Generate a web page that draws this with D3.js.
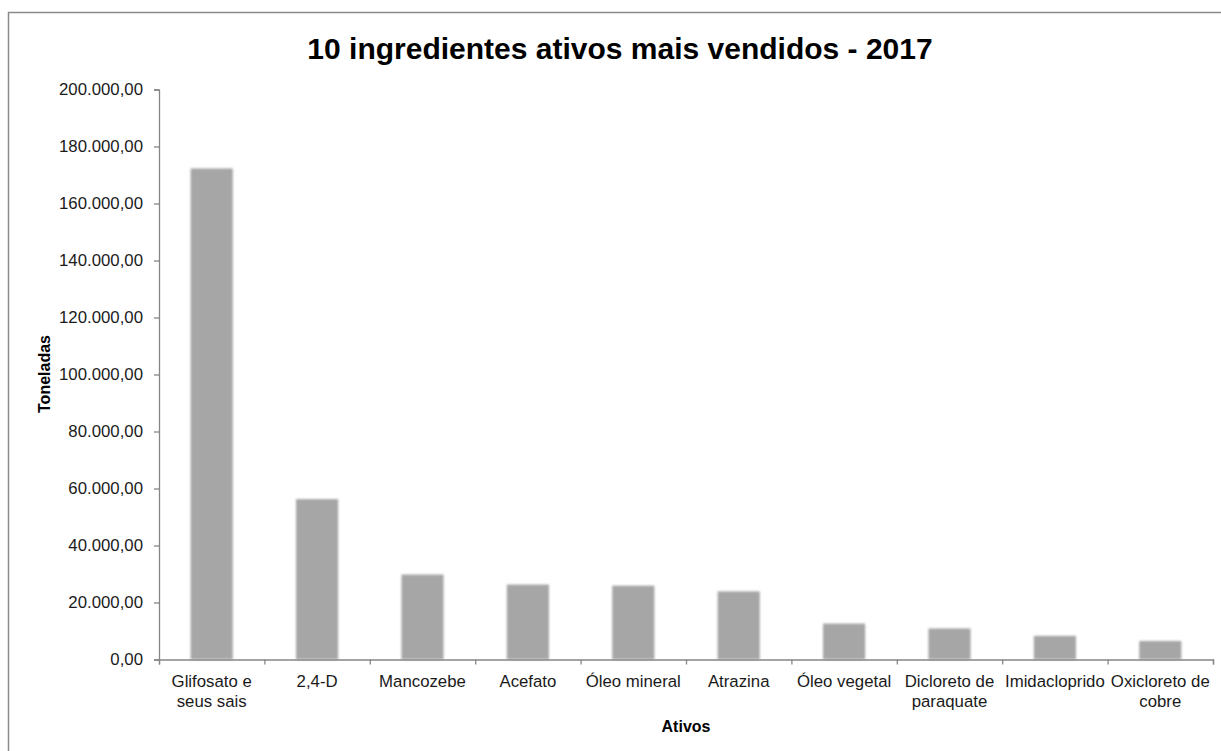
<!DOCTYPE html>
<html>
<head>
<meta charset="utf-8">
<script src="https://cdn.jsdelivr.net/npm/d3@7"></script>
<style>
  body { margin: 0; background: #fff; }
  svg { font-family: "Liberation Sans", Arial, sans-serif; }
</style>
</head>
<body>
<svg width="1221" height="751"></svg>
<script>
const categorias = ["Glifosato e seus sais", "2,4-D", "Mancozebe", "Acefato", "Óleo mineral",
                    "Atrazina", "Óleo vegetal", "Dicloreto de paraquate", "Imidacloprido", "Oxicloreto de cobre"];
const rotulos = [["Glifosato e", "seus sais"], ["2,4-D"], ["Mancozebe"], ["Acefato"], ["Óleo mineral"],
                 ["Atrazina"], ["Óleo vegetal"], ["Dicloreto de", "paraquate"], ["Imidacloprido"], ["Oxicloreto de", "cobre"]];
const toneladas = [172300, 56300, 29800, 26300, 25900, 23900, 12600, 10900, 8300, 6500];
const yTicks = [0, 20000, 40000, 60000, 80000, 100000, 120000, 140000, 160000, 180000, 200000];

const svg = d3.select("svg");
const margin = { top: 89.5, left: 159, right: 1213, bottom: 659.5 };

// moldura do gráfico (só esquerda e topo visíveis)
svg.append("rect")
  .attr("x", 8.5).attr("y", 12.5)
  .attr("width", 1400).attr("height", 900)
  .attr("fill", "none").attr("stroke", "#8a8a8a").attr("stroke-width", 1.5);

const defs = svg.append("defs");
defs.append("filter").attr("id", "suave")
  .attr("x", "-10%").attr("y", "-10%").attr("width", "120%").attr("height", "120%")
  .append("feGaussianBlur").attr("stdDeviation", 0.9);

const ptBR = d3.formatLocale({ decimal: ",", thousands: ".", grouping: [3], currency: ["R$", ""] });
const fmt = ptBR.format(",.2f");

const x = d3.scaleBand().domain(categorias).range([margin.left, margin.right]).paddingInner(0.6).paddingOuter(0.3);
const xLim = d3.scaleLinear().domain([0, categorias.length]).range([margin.left, margin.right]);
const y = d3.scaleLinear().domain([0, 200000]).range([margin.bottom, margin.top]);

// barras
svg.append("g").attr("filter", "url(#suave)")
  .selectAll("rect")
  .data(toneladas)
  .join("rect")
  .attr("x", (d, i) => x(categorias[i]))
  .attr("y", d => y(d))
  .attr("width", x.bandwidth())
  .attr("height", d => y(0) - y(d))
  .attr("fill", "#a6a6a6");

// eixo Y
const gy = svg.append("g")
  .attr("transform", "translate(" + margin.left + ",0)")
  .call(d3.axisLeft(y).tickValues(yTicks).tickFormat(fmt).tickSize(5).tickPadding(11));
gy.select(".domain").attr("stroke", "#868686").attr("stroke-width", 1.3);
gy.selectAll(".tick line").attr("stroke", "#868686").attr("stroke-width", 1.3);
gy.selectAll(".tick text").attr("font-size", "16.8px").attr("fill", "#1a1a1a")
  .attr("font-family", "Liberation Sans, Arial, sans-serif");

// eixo X (marcas nos limites das categorias)
const gx = svg.append("g")
  .attr("transform", "translate(0," + margin.bottom + ")")
  .call(d3.axisBottom(xLim).ticks(10).tickFormat("").tickSize(5).tickSizeOuter(5));
gx.select(".domain").attr("stroke", "#868686").attr("stroke-width", 1.3);
gx.selectAll(".tick line").attr("stroke", "#868686").attr("stroke-width", 1.3);

// rótulos das categorias
const lbl = svg.append("g").selectAll("text")
  .data(rotulos)
  .join("text")
  .attr("x", (d, i) => x(categorias[i]) + x.bandwidth() / 2)
  .attr("y", 686.5)
  .attr("text-anchor", "middle")
  .attr("font-size", "16.8px")
  .attr("fill", "#1a1a1a");
lbl.selectAll("tspan")
  .data(d => d)
  .join("tspan")
  .attr("x", function() { return d3.select(this.parentNode).attr("x"); })
  .attr("dy", (d, i) => i === 0 ? 0 : 20)
  .text(d => d);

// títulos
svg.append("text")
  .attr("x", 620).attr("y", 59)
  .attr("text-anchor", "middle")
  .attr("font-size", "30px").attr("font-weight", "bold").attr("fill", "#000")
  .text("10 ingredientes ativos mais vendidos - 2017");

svg.append("text")
  .attr("x", 686).attr("y", 732)
  .attr("text-anchor", "middle")
  .attr("font-size", "16px").attr("font-weight", "bold").attr("fill", "#000")
  .text("Ativos");

svg.append("text")
  .attr("transform", "translate(50,374) rotate(-90)")
  .attr("text-anchor", "middle")
  .attr("font-size", "16px").attr("font-weight", "bold").attr("fill", "#000")
  .text("Toneladas");
</script>
</body>
</html>
